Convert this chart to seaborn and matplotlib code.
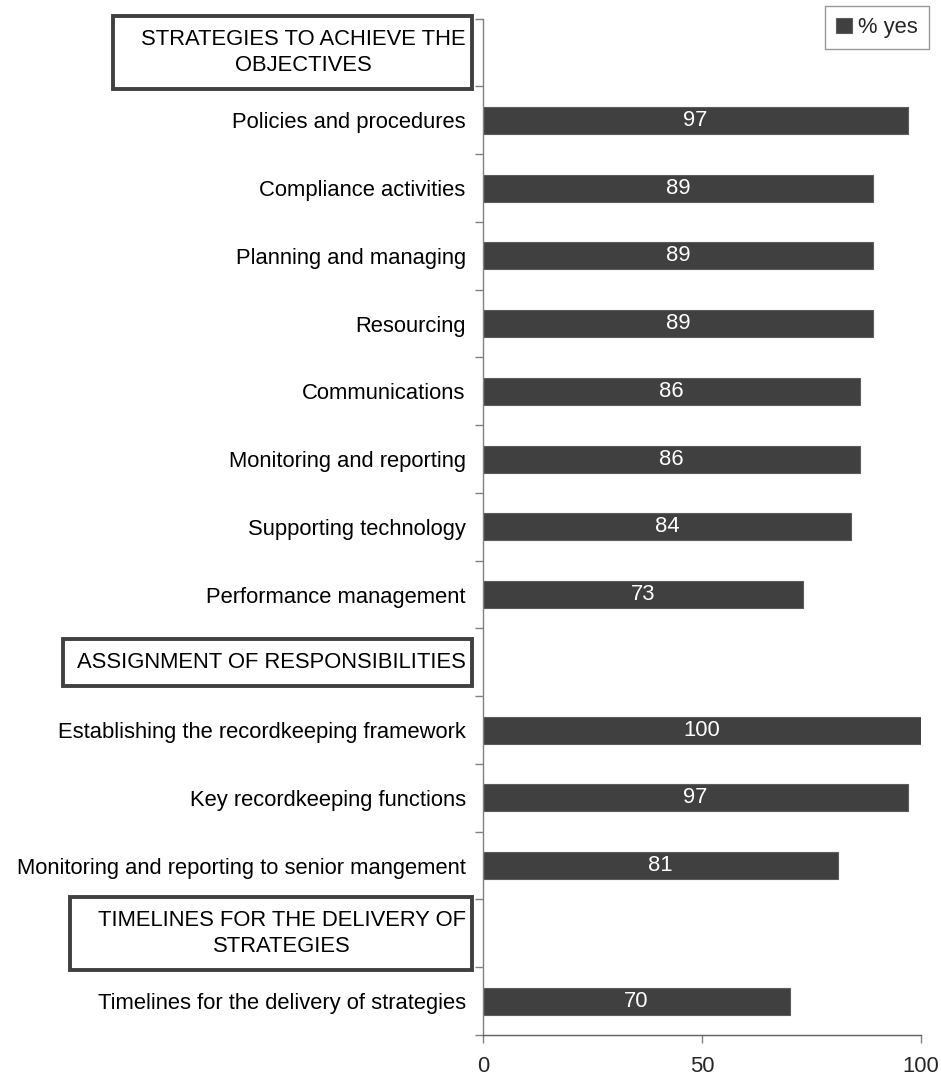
import numpy as np
import pandas as pd
import matplotlib
matplotlib.use("Agg")
import matplotlib.pyplot as plt
from matplotlib.patches import Rectangle
import seaborn as sns

# 見出し行（値なし）と項目行
categories = [
    "STRATEGIES TO ACHIEVE THE\nOBJECTIVES",
    "Policies and procedures",
    "Compliance activities",
    "Planning and managing",
    "Resourcing",
    "Communications",
    "Monitoring and reporting",
    "Supporting technology",
    "Performance management",
    "ASSIGNMENT OF RESPONSIBILITIES",
    "Establishing the recordkeeping framework",
    "Key recordkeeping functions",
    "Monitoring and reporting to senior mangement",
    "TIMELINES FOR THE DELIVERY OF\nSTRATEGIES",
    "Timelines for the delivery of strategies",
]
headers = [
    "STRATEGIES TO ACHIEVE THE\nOBJECTIVES",
    "ASSIGNMENT OF RESPONSIBILITIES",
    "TIMELINES FOR THE DELIVERY OF\nSTRATEGIES",
]
header_left_pad = [28, 14, 28]
pct_yes = [np.nan, 97, 89, 89, 89, 86, 86, 84, 73, np.nan, 100, 97, 81, np.nan, 70]
xticks = [0, 50, 100]
series_name = "% yes"

df = pd.DataFrame({"item": categories, "value": pct_yes, "series": series_name})

sns.set_style("white")
plt.rcParams["font.family"] = ["Liberation Sans", "DejaVu Sans"]
fs = 15.8

fig = plt.figure(figsize=(9.41, 10.78), dpi=100)
ax = fig.add_axes([483 / 941, 1 - 1035 / 1078, (921 - 483) / 941, (1035 - 18.7) / 1078])

sns.barplot(data=df.dropna(), x="value", y="item", hue="series", order=categories,
            orient="h", palette=["#404040"], width=0.4,
            edgecolor="#5c5c5c", linewidth=0.8, ax=ax)

for c in ax.containers:
    ax.bar_label(c, label_type="center", color="white", fontsize=fs, fmt="%g")

ax.set_xlim(0, 100)
ax.set_ylim(len(categories) - 0.5, -0.5)
ax.set_xticks(xticks)
ax.set_xlabel("")
ax.set_ylabel("")

# 区切り目盛り
ax.set_yticks(np.arange(-0.5, len(categories), 1.0), minor=True)
ax.tick_params(axis="y", which="major", length=0, pad=12.5, labelsize=fs, colors="black")
ax.tick_params(axis="y", which="minor", length=6, width=1, color="#808080", left=True)
ax.tick_params(axis="x", which="major", length=6, width=1, color="#808080",
               bottom=True, pad=9, labelsize=fs)

for s in ["top", "right"]:
    ax.spines[s].set_visible(False)
ax.spines["left"].set_color("#808080")
ax.spines["bottom"].set_color("#606060")
ax.spines["left"].set_linewidth(1)
ax.spines["bottom"].set_linewidth(1)

for lab in ax.get_yticklabels():
    if lab.get_text() in headers:
        lab.set_multialignment("center")
        lab.set_linespacing(1.3)
        lab.set_va("center")

leg = ax.legend(loc="upper right", bbox_to_anchor=(929 / 941, 1 - 6 / 1078),
                bbox_transform=fig.transFigure, borderaxespad=0, fontsize=fs,
                frameon=True, fancybox=False, handlelength=0.7, handleheight=0.7,
                handletextpad=0.3, borderpad=0.5)
leg.get_frame().set_edgecolor("#808080")
leg.get_frame().set_linewidth(1)

# 見出しの枠
fig.canvas.draw()
renderer = fig.canvas.get_renderer()
inv = fig.transFigure.inverted()
for lab in ax.get_yticklabels():
    if lab.get_text() in headers:
        padl = header_left_pad[headers.index(lab.get_text())]
        bb = lab.get_window_extent(renderer)
        x0, y0 = inv.transform((bb.x0 - padl, bb.y0 - 13))
        x1, y1 = inv.transform((bb.x1 + 6, bb.y1 + 13))
        fig.add_artist(Rectangle((x0, y0), x1 - x0, y1 - y0, transform=fig.transFigure,
                                 fill=False, edgecolor="#404040", linewidth=2.8))

fig.savefig("out.png", dpi=100)
